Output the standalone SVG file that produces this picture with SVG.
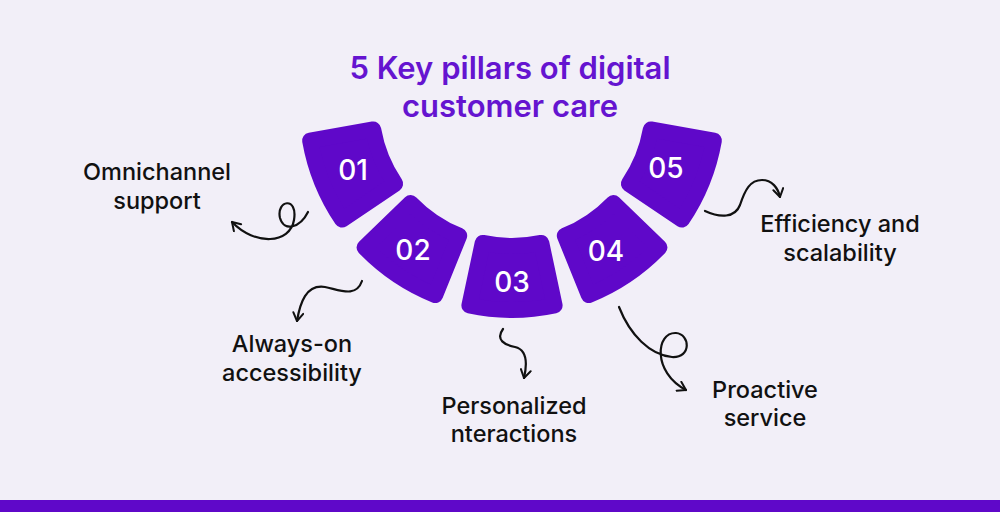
<svg xmlns="http://www.w3.org/2000/svg" width="1000" height="512" viewBox="0 0 1000 512">
<style>
.node{fill:#5f08c9;stroke:#5f08c9;stroke-width:16;stroke-linejoin:round}
.num{font-family:Inter,"Liberation Sans",sans-serif;font-size:28px;font-weight:500;fill:#fff;text-anchor:middle}
.lbl{font-family:Inter,"Liberation Sans",sans-serif;font-size:23.5px;font-weight:500;fill:#111;text-anchor:middle}
.title{font-family:Inter,"Liberation Sans",sans-serif;font-size:31px;font-weight:600;fill:#6514d0;text-anchor:middle}
.c{fill:none;stroke:#111;stroke-width:2.2;stroke-linecap:round}
</style>
<defs>
<path id="seg" d="M554.6,305.5 A205,205 0 0 1 469.4,305.5 L482.7,242.9 A141,141 0 0 0 541.3,242.9 Z"/>
<marker id="ah" viewBox="0 0 12 12" refX="10" refY="6" markerWidth="12" markerHeight="12" markerUnits="userSpaceOnUse" orient="auto"><path d="M2,1 L10,6 L2,11" fill="none" stroke="#111" stroke-width="2" stroke-linecap="round" stroke-linejoin="round"/></marker>
</defs>
<rect width="1000" height="512" fill="#f2eff8"/>
<rect y="500" width="1000" height="12" fill="#5f08c9"/>
<g id="title"><text class="title" x="510" y="79">5 Key pillars of digital</text><text class="title" x="510" y="117">customer care</text></g>
<g id="n01"><use href="#seg" class="node" transform="rotate(68 512 105)"/><text class="num" x="353" y="180">01</text></g>
<g id="n02"><use href="#seg" class="node" transform="rotate(34 512 105)"/><text class="num" x="413" y="260">02</text></g>
<g id="n03"><use href="#seg" class="node"/><text class="num" x="512" y="292">03</text></g>
<g id="n04"><use href="#seg" class="node" transform="rotate(-34 512 105)"/><text class="num" x="606" y="261">04</text></g>
<g id="n05"><use href="#seg" class="node" transform="rotate(-68 512 105)"/><text class="num" x="666" y="178">05</text></g>
<g id="labels">
<text class="lbl" x="157" y="180">Omnichannel</text><text class="lbl" x="157" y="209">support</text>
<text class="lbl" x="292" y="352">Always-on</text><text class="lbl" x="292" y="381">accessibility</text>
<text class="lbl" x="514" y="414">Personalized</text><text class="lbl" x="514" y="442">nteractions</text>
<text class="lbl" x="765" y="398">Proactive</text><text class="lbl" x="765" y="426">service</text>
<text class="lbl" x="840" y="232">Efficiency and</text><text class="lbl" x="840" y="261">scalability</text>
</g>
<g id="connectors">
<path class="c" marker-end="url(#ah)" d="M308,212 C300,228 284,232 280,218 C276,200 298,196 294,220 C290,244 255,246 232,222"/>
<path class="c" marker-end="url(#ah)" d="M362,281 C356,298 340,290 325,287 C306,284 300,303 297,321"/>
<path class="c" marker-end="url(#ah)" d="M503,329 C495,340 505,345 515,347 C528,350 527,365 524,378"/>
<path class="c" marker-end="url(#ah)" d="M619,307 C630,335 650,355 672,357 C692,358 690,334 676,333 C656,332 652,372 686,390"/>
<path class="c" marker-end="url(#ah)" d="M705,211 C720,218 735,218 740,205 C745,190 750,180 762,180 C772,180 778,188 780,197"/>
</g>
</svg>
